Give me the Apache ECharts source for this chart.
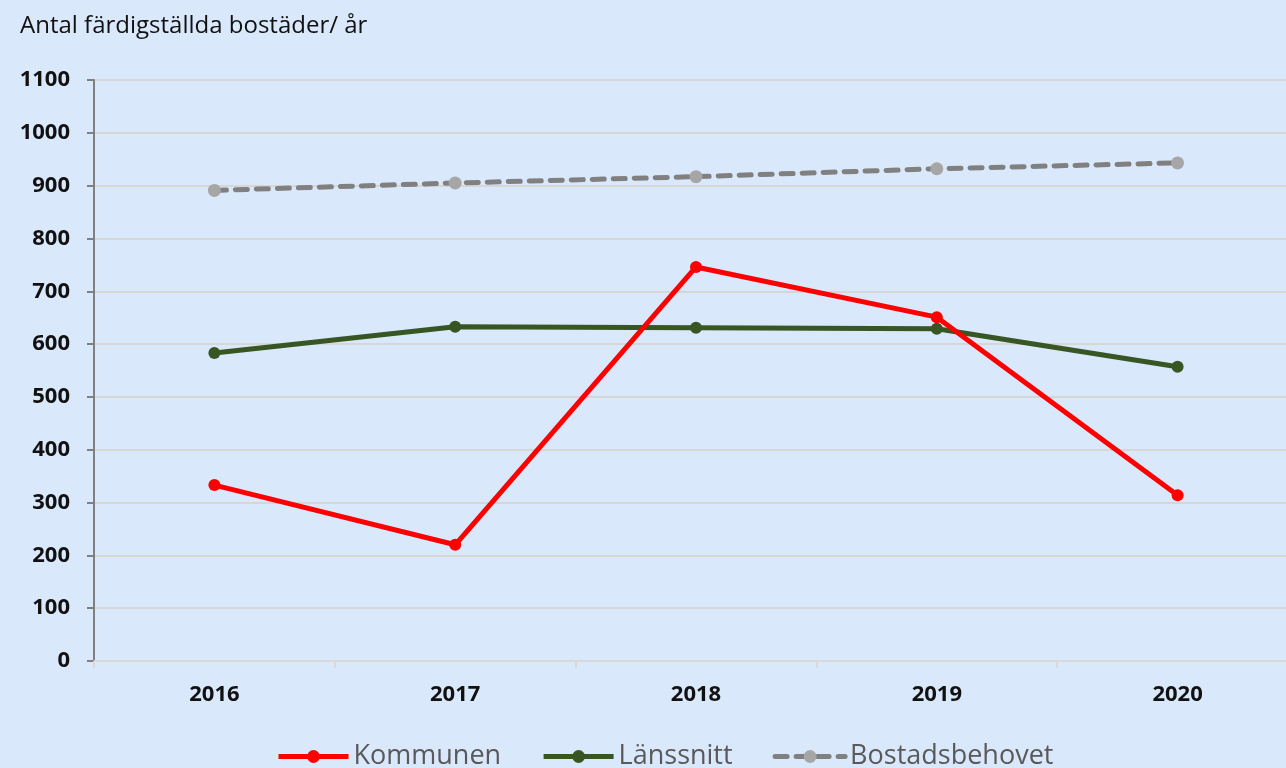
<!DOCTYPE html>
<html><head><meta charset="utf-8">
<script src="https://cdn.jsdelivr.net/npm/echarts@6/dist/echarts.min.js"></script>
<style>html,body{margin:0;padding:0;background:#dae8fc}#c{width:1286px;height:768px}</style>
</head><body><div id="c"></div>
<script>
const years = ['2016','2017','2018','2019','2020'];
const kommunen = [333, 220, 746, 651, 314];
const lanssnitt = [583, 633, 631, 629, 557];
const bostadsbehovet = [891, 905, 917, 932, 943];
const seriesNames = ['Kommunen','Länssnitt','Bostadsbehovet'];
const yMax = 1100, yStep = 100;

const chart = echarts.init(document.getElementById('c'));
const font = '"Open Sans", "Noto Sans", sans-serif';
chart.setOption({
  backgroundColor: '#dae8fc',
  animation: false,
  title: {text: 'Antal färdigställda bostäder/ år', left: 15, top: 9,
    textStyle: {fontFamily: font, fontSize: 24, fontWeight: 'normal', color: '#111'}},
  grid: {left: 94, width: 1204, top: 80, bottom: 107, containLabel: false, outerBoundsMode: 'none'},
  legend: {bottom: -7, left: 271, itemWidth: 70, itemHeight: 16, itemGap: 40,
    textStyle: {fontFamily: font, fontSize: 27, color: '#595959'},
    lineStyle: {width: 5},
    data: seriesNames},
  xAxis: {type: 'category', data: years, boundaryGap: true,
    axisLine: {lineStyle: {color: '#d9d9d9', width: 2}},
    axisTick: {show: true, length: 7, lineStyle: {color: '#d9d9d9', width: 2}},
    axisLabel: {fontFamily: font, fontSize: 22, fontWeight: 'bold', color: '#111', margin: 23}},
  yAxis: {type: 'value', min: 0, max: yMax, interval: yStep,
    axisLine: {show: true, lineStyle: {color: '#808080', width: 2}},
    axisTick: {show: true, length: 7, lineStyle: {color: '#808080', width: 2}},
    splitLine: {lineStyle: {color: '#d6d6d6', width: 2}},
    axisLabel: {fontFamily: font, fontSize: 22, fontWeight: 'bold', color: '#111', margin: 24,
      formatter: v => String(v)}},
  series: [
    {name: seriesNames[0], type: 'line', data: kommunen, symbol: 'circle', symbolSize: 12,
      lineStyle: {color: '#ff0000', width: 5}, itemStyle: {color: '#ff0000'}, z: 4},
    {name: seriesNames[1], type: 'line', data: lanssnitt, symbol: 'circle', symbolSize: 12,
      lineStyle: {color: '#375623', width: 5}, itemStyle: {color: '#375623'}, z: 3},
    {name: seriesNames[2], type: 'line', data: bostadsbehovet, symbol: 'circle', symbolSize: 13,
      lineStyle: {color: '#808080', width: 5, type: [12, 9], cap: 'round'}, itemStyle: {color: '#a6a6a6'}, z: 2}
  ]
});
</script></body></html>
